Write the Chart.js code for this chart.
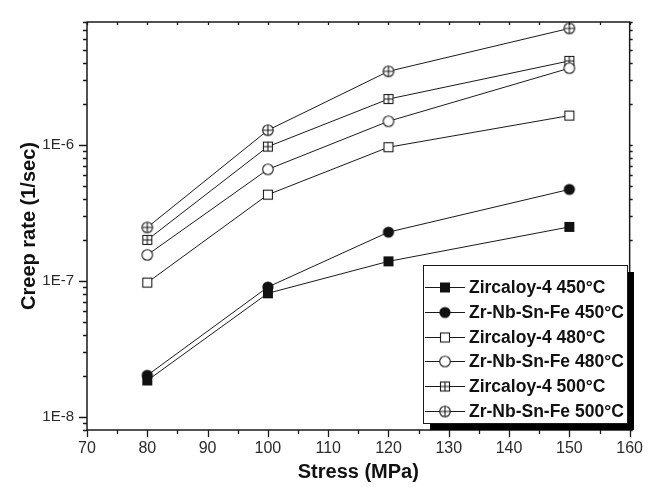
<!DOCTYPE html>
<html>
<head>
<meta charset="utf-8">
<script src="https://cdn.jsdelivr.net/npm/chart.js@4/dist/chart.umd.min.js"></script>
<style>
  html, body { margin: 0; padding: 0; background: #ffffff; }
  #wrap { width: 652px; height: 489px; }
</style>
</head>
<body>
<div id="wrap"><canvas id="creepChart" width="652" height="489"></canvas></div>
<script>
// ==========================================
// DATA (dibaca dari gambar rujukan)
// ==========================================
const stress = [80, 100, 120, 150];

const zry450  = [1.85e-8, 8.1e-8, 1.39e-7, 2.49e-7];
const znsf450 = [2.02e-8, 9.0e-8, 2.28e-7, 4.7e-7];
const zry480  = [9.7e-8, 4.3e-7, 9.6e-7, 1.64e-6];
const znsf480 = [1.55e-7, 6.6e-7, 1.49e-6, 3.66e-6];
const zry500  = [2.0e-7, 9.7e-7, 2.17e-6, 4.14e-6];
const znsf500 = [2.47e-7, 1.28e-6, 3.47e-6, 7.18e-6];

const seriesLabels = [
    'Zircaloy-4 450°C', 'Zr-Nb-Sn-Fe 450°C',
    'Zircaloy-4 480°C', 'Zr-Nb-Sn-Fe 480°C',
    'Zircaloy-4 500°C', 'Zr-Nb-Sn-Fe 500°C'
];

const xTickValues = [70, 80, 90, 100, 110, 120, 130, 140, 150, 160];
const xTickLabels = ['70', '80', '90', '100', '110', '120', '130', '140', '150', '160'];
const yTickValues = [1e-8, 1e-7, 1e-6];
const yTickLabels = ['1E-8', '1E-7', '1E-6'];

const FONT = 'Arial, "Liberation Sans", sans-serif';
const INK = '#1a1a1a';

// ==========================================
// MARKER (canvas kecil sebagai pointStyle)
// ==========================================
function makeMarker(kind) {
    const c = document.createElement('canvas');
    c.width = 14; c.height = 14;
    const g = c.getContext('2d');
    g.strokeStyle = INK;
    g.lineWidth = 1.1;
    const m = 7;
    if (kind === 'fsq') {
        g.fillStyle = '#111';
        g.fillRect(2, 2, 10, 10);
    } else if (kind === 'fci') {
        g.fillStyle = '#111';
        g.beginPath(); g.arc(m, m, 5.6, 0, Math.PI * 2); g.fill();
    } else if (kind === 'osq' || kind === 'xsq') {
        g.fillStyle = '#fff';
        g.fillRect(2.5, 2.5, 9, 9);
        g.strokeRect(2.5, 2.5, 9, 9);
        if (kind === 'xsq') {
            g.beginPath();
            g.moveTo(m, 2.5); g.lineTo(m, 11.5);
            g.moveTo(2.5, m); g.lineTo(11.5, m);
            g.stroke();
        }
    } else {
        g.fillStyle = '#fff';
        g.beginPath(); g.arc(m, m, 5.3, 0, Math.PI * 2); g.fill(); g.stroke();
        if (kind === 'xci') {
            g.beginPath();
            g.moveTo(m, 1.7); g.lineTo(m, 12.3);
            g.moveTo(1.7, m); g.lineTo(12.3, m);
            g.stroke();
        }
    }
    return c;
}

const markers = ['fsq', 'fci', 'osq', 'oci', 'xsq', 'xci'].map(makeMarker);
const allSeries = [zry450, znsf450, zry480, znsf480, zry500, znsf500];

// ==========================================
// PLUGIN: bingkai, tanda tick, legend
// ==========================================
const framePlugin = {
    id: 'frame',
    afterDraw(chart) {
        const ctx = chart.ctx;
        const a = chart.chartArea;
        const xs = chart.scales.x;
        const ys = chart.scales.y;
        ctx.save();
        ctx.strokeStyle = INK;
        ctx.lineWidth = 1.5;
        ctx.strokeRect(a.left, a.top, a.right - a.left, a.bottom - a.top);

        ctx.lineWidth = 1.3;
        ctx.beginPath();
        // tick paksi X (utama tiap 10, kecil tiap 5)
        for (let v = 70; v <= 160; v += 5) {
            const px = Math.round(xs.getPixelForValue(v)) + 0.5;
            const major = v % 10 === 0;
            ctx.moveTo(px, a.bottom); ctx.lineTo(px, a.bottom + (major ? 7 : 4));
            ctx.moveTo(px, a.top); ctx.lineTo(px, a.top + 3);
        }
        // tick paksi Y (log)
        for (let e = -9; e <= -6; e++) {
            for (let k = 1; k <= 9; k++) {
                const v = k * Math.pow(10, e);
                if (v < ys.min * 0.999 || v > ys.max * 1.001) continue;
                const py = Math.round(ys.getPixelForValue(v)) + 0.5;
                ctx.moveTo(a.left, py); ctx.lineTo(a.left - (k === 1 ? 8 : 4), py);
                ctx.moveTo(a.right, py); ctx.lineTo(a.right + 3, py);
            }
        }
        ctx.stroke();

        // legend dengan bayang hitam
        const bx = 423, by = 265, bw = 204, bh = 158;
        ctx.fillStyle = '#000';
        ctx.fillRect(bx + 7, by + 7, bw, bh);
        ctx.fillStyle = '#fff';
        ctx.fillRect(bx, by, bw, bh);
        ctx.lineWidth = 1;
        ctx.strokeStyle = INK;
        ctx.strokeRect(bx + 0.5, by + 0.5, bw, bh);

        ctx.font = 'bold 17.5px ' + FONT;
        ctx.textBaseline = 'middle';
        ctx.textAlign = 'left';
        seriesLabels.forEach((lbl, i) => {
            const ry = Math.round(287 + i * 24.8) + 0.5;
            ctx.beginPath();
            ctx.moveTo(bx + 2, ry); ctx.lineTo(bx + 42, ry);
            ctx.stroke();
            const mk = markers[i];
            ctx.drawImage(mk, bx + 22 - mk.width / 2, ry - mk.height / 2);
            ctx.fillStyle = '#111';
            ctx.fillText(lbl, bx + 46, ry + 1);
        });
        ctx.restore();
    }
};

document.addEventListener('DOMContentLoaded', () => {
    const ctx = document.getElementById('creepChart');

    const datasets = allSeries.map((vals, i) => ({
        label: seriesLabels[i],
        data: stress.map((s, j) => ({ x: s, y: vals[j] })),
        borderColor: INK,
        borderWidth: 1,
        pointStyle: markers[i],
        pointRadius: 6,
        pointHoverRadius: 6,
        fill: false,
        tension: 0
    }));

    new Chart(ctx, {
        type: 'line',
        data: { datasets },
        plugins: [framePlugin],
        options: {
            responsive: false,
            animation: false,
            devicePixelRatio: 1,
            layout: { padding: { left: 0, top: 15, right: 13, bottom: 0 } },
            plugins: {
                legend: { display: false },
                tooltip: { enabled: false }
            },
            scales: {
                x: {
                    type: 'linear',
                    min: 70,
                    max: 160,
                    afterBuildTicks: (s) => { s.ticks = xTickValues.map(v => ({ value: v })); },
                    afterFit: (s) => { s.height = 59; },
                    grid: { display: false, drawTicks: false },
                    border: { display: false },
                    ticks: {
                        padding: 9,
                        color: '#2a2a2a',
                        font: { family: FONT, size: 16 },
                        callback: (v) => {
                            const i = xTickValues.indexOf(v);
                            return i >= 0 ? xTickLabels[i] : '';
                        }
                    },
                    title: {
                        display: true,
                        text: 'Stress (MPa)',
                        color: '#111',
                        font: { family: FONT, size: 20, weight: 'bold' },
                        padding: { bottom: 5 }
                    }
                },
                y: {
                    type: 'logarithmic',
                    min: 8e-9,
                    max: 8e-6,
                    afterBuildTicks: (s) => { s.ticks = yTickValues.map(v => ({ value: v })); },
                    afterFit: (s) => { s.width = 87; },
                    grid: { display: false, drawTicks: false },
                    border: { display: false },
                    ticks: {
                        padding: 13,
                        color: '#2a2a2a',
                        font: { family: FONT, size: 15 },
                        callback: (v) => {
                            const i = yTickValues.findIndex(t => Math.abs(t - v) / t < 1e-6);
                            return i >= 0 ? yTickLabels[i] : '';
                        }
                    },
                    title: {
                        display: true,
                        text: 'Creep rate (1/sec)',
                        color: '#111',
                        font: { family: FONT, size: 20, weight: 'bold' },
                        padding: { top: 17 }
                    }
                }
            }
        }
    });
});
</script>
</body>
</html>
